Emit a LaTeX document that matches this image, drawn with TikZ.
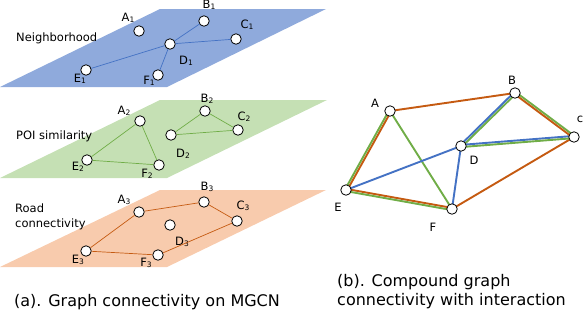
\documentclass[tikz,border=0pt]{standalone}
\usepackage{fontspec}
\setmainfont{DejaVu Sans}
\usepackage{tikz}
\usetikzlibrary{calc,backgrounds}
\definecolor{nbline}{HTML}{4472C4}
\definecolor{poiline}{HTML}{70AD47}
\definecolor{roadline}{HTML}{C55A11}
\definecolor{nbfill}{HTML}{8FAADC}
\definecolor{poifill}{HTML}{C5E0B4}
\definecolor{roadfill}{HTML}{F8CBAD}
\newcommand{\lsub}[1]{\raisebox{-0.8pt}{\fontsize{7.5}{7.5}\selectfont #1}}
\newcommand{\twinedge}[4]{%
  \draw[#3, compound] ($(#1)!1.1pt!90:(#2)$) -- ($(#2)!1.1pt!-90:(#1)$);
  \draw[#4, compound] ($(#1)!1.1pt!-90:(#2)$) -- ($(#2)!1.1pt!90:(#1)$);}

\begin{document}
\begin{tikzpicture}[
  x=1pt, y=-1pt,
  vtx/.style={circle, draw=black, fill=white, line width=0.8pt,
              minimum size=10.5pt, inner sep=0pt},
  lbl/.style={inner sep=0pt, font=\fontsize{11.5}{14}\selectfont},
  layer/.style={inner sep=0pt, align=left, anchor=west,
                font=\fontsize{11.5}{15}\selectfont},
  link/.style={line width=0.7pt},
  compound/.style={line width=1.9pt},
  caption/.style={inner sep=0pt, font=\fontsize{16}{19.5}\selectfont}]
  \useasboundingbox (0,0) rectangle (586,314);
  \fill[nbfill] (160,9) -- (326,9) -- (167,87) -- (0,87) -- cycle;
  \fill[poifill] (160,100) -- (327,100) -- (167,178) -- (0,178) -- cycle;
  \fill[roadfill] (160,190) -- (326,190) -- (167,267) -- (0,267) -- cycle;

  \node[layer] (nbtext) at (16,38) {Neighborhood};
  \node[layer] (poitext) at (16,136) {POI similarity};
  \node[layer] (roadtext) at (15,216.5) {Road\\connectivity};

  \node[vtx] (A1) at (139,31) {};
  \node[vtx] (B1) at (204,21) {};
  \node[vtx] (C1) at (236,39) {};
  \node[vtx] (D1) at (170,44) {};
  \node[vtx] (E1) at (86,70) {};
  \node[vtx] (F1) at (158,75) {};
  \node[lbl] (A1l) at (128,18) {A\lsub1};
  \node[lbl] (B1l) at (209,5) {B\lsub1};
  \node[lbl] (C1l) at (247,25) {C\lsub1};
  \node[lbl] (D1l) at (186,61) {D\lsub1};
  \node[lbl] (E1l) at (80,79) {E\lsub1};
  \node[lbl] (F1l) at (149,81) {F\lsub1};
  \draw[nbline, link] (D1) -- (B1);
  \draw[nbline, link] (D1) -- (C1);
  \draw[nbline, link] (D1) -- (E1);
  \draw[nbline, link] (D1) -- (F1);

  \node[vtx] (A2) at (140,121) {};
  \node[vtx] (B2) at (205,111) {};
  \node[vtx] (C2) at (238,130) {};
  \node[vtx] (D2) at (171,135) {};
  \node[vtx] (E2) at (87,160) {};
  \node[vtx] (F2) at (159,165) {};
  \node[lbl] (A2l) at (124,111) {A\lsub2};
  \node[lbl] (B2l) at (207,99) {B\lsub2};
  \node[lbl] (C2l) at (244,117) {C\lsub2};
  \node[lbl] (D2l) at (183,154) {D\lsub2};
  \node[lbl] (E2l) at (78,167) {E\lsub2};
  \node[lbl] (F2l) at (147,174) {F\lsub2};
  \draw[poiline, link] (A2) -- (E2);
  \draw[poiline, link] (A2) -- (F2);
  \draw[poiline, link] (E2) -- (F2);
  \draw[poiline, link] (D2) -- (B2);
  \draw[poiline, link] (B2) -- (C2);
  \draw[poiline, link] (D2) -- (C2);

  \node[vtx] (A3) at (139,212) {};
  \node[vtx] (B3) at (204,202) {};
  \node[vtx] (C3) at (237,221) {};
  \node[vtx] (D3) at (170,225) {};
  \node[vtx] (E3) at (86,251) {};
  \node[vtx] (F3) at (158,255) {};
  \node[lbl] (A3l) at (124,200) {A\lsub3};
  \node[lbl] (B3l) at (207,187) {B\lsub3};
  \node[lbl] (C3l) at (243,206) {C\lsub3};
  \node[lbl] (D3l) at (182,242) {D\lsub3};
  \node[lbl] (E3l) at (78,260) {E\lsub3};
  \node[lbl] (F3l) at (146,263) {F\lsub3};
  \draw[roadline, link] (A3) -- (B3);
  \draw[roadline, link] (B3) -- (C3);
  \draw[roadline, link] (C3) -- (F3);
  \draw[roadline, link] (F3) -- (E3);
  \draw[roadline, link] (E3) -- (A3);

  \node[vtx] (A) at (390,111) {};
  \node[vtx] (B) at (515,93) {};
  \node[vtx] (C) at (574,137) {};
  \node[vtx] (D) at (461,146) {};
  \node[vtx] (E) at (346,190) {};
  \node[vtx] (F) at (452,209) {};
  \node[lbl] (Al) at (375,103) {A};
  \node[lbl] (Bl) at (512,80) {B};
  \node[lbl] (Cl) at (580,119) {c};
  \node[lbl] (Dl) at (474,160) {D};
  \node[lbl] (El) at (338,207) {E};
  \node[lbl] (Fl) at (433,227) {F};
  \begin{pgfonlayer}{background}
    \draw[roadline, compound] (A.center) -- (B.center);
    \draw[poiline, compound] (A.center) -- (F.center);
    \draw[nbline, compound] (D.center) -- (E.center);
    \draw[nbline, compound] (D.center) -- (F.center);
    \draw[roadline, compound] (F.center) -- (C.center);
    \twinedge{A}{E}{roadline}{poiline}
    \twinedge{E}{F}{roadline}{poiline}
    \twinedge{B}{D}{poiline}{nbline}
    \twinedge{D}{C}{nbline}{poiline}
    \twinedge{B}{C}{poiline}{roadline}
  \end{pgfonlayer}

  \node[caption, anchor=base] (capa) at (147,306)
    {(a). Graph connectivity on MGCN};
  \node[caption, anchor=north west, align=left] (capb) at (337,274)
    {(b). Compound graph\\connectivity with interaction};
\end{tikzpicture}
\end{document}
